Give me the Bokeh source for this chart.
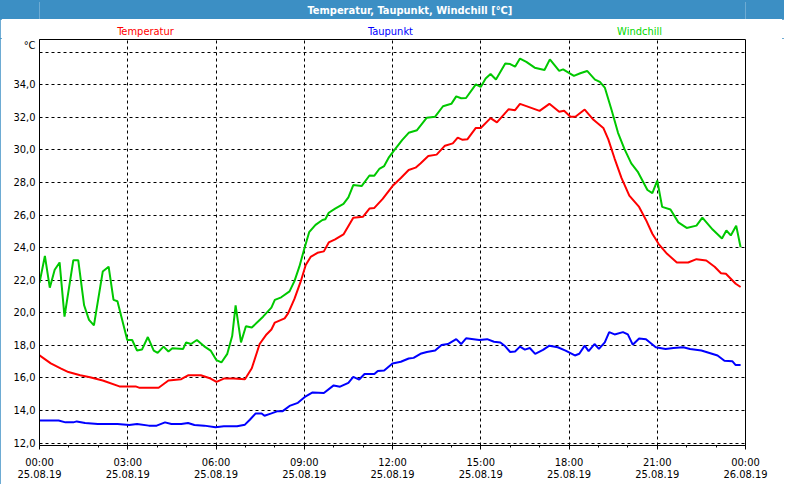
from bokeh.plotting import figure
from bokeh.models import Range1d, FixedTicker, Label
from bokeh.layouts import column
from bokeh.embed import file_html
from bokeh.resources import INLINE

FONT = "DejaVu Sans Condensed"
BAR = "#3c8fc4"
RED = "#ff0000"
BLUE = "#0000ff"
GREEN = "#00c800"

title_text = "Temperatur, Taupunkt, Windchill [°C]"
series_names = ["Temperatur", "Taupunkt", "Windchill"]
series_label_colors = [RED, BLUE, "#00d800"]
unit_label = "°C"

x_ticks = [0, 180, 360, 540, 720, 900, 1080, 1260, 1440]
x_tick_labels = ["00:00\n25.08.19", "03:00\n25.08.19", "06:00\n25.08.19",
                 "09:00\n25.08.19", "12:00\n25.08.19", "15:00\n25.08.19",
                 "18:00\n25.08.19", "21:00\n25.08.19", "00:00\n26.08.19"]
x_minor = [60 * i for i in range(25)]
y_ticks = [12, 14, 16, 18, 20, 22, 24, 26, 28, 30, 32, 34, 36]
y_tick_labels = ["12,0", "14,0", "16,0", "18,0", "20,0", "22,0", "24,0",
                 "26,0", "28,0", "30,0", "32,0", "34,0", ""]
unit_tick = 36.4

# minutes after 25.08.19 00:00
temp_min = [0, 23, 43, 59, 83, 103, 129, 163, 196, 203, 243, 263, 289, 303, 329,
            349, 361, 376, 396, 419, 433, 449, 463, 473, 480, 500, 507, 520, 533,
            543, 553, 567, 580, 590, 603, 620, 640, 660, 673, 683, 700, 720, 737,
            753, 767, 777, 793, 810, 827, 843, 853, 863, 873, 890, 900, 920, 933,
            957, 970, 980, 993, 1020, 1040, 1060, 1070, 1083, 1093, 1112, 1130,
            1150, 1160, 1173, 1187, 1203, 1223, 1237, 1250, 1263, 1280, 1300,
            1323, 1340, 1360, 1377, 1390, 1400, 1420, 1430]
temp_val = [17.38, 16.89, 16.59, 16.36, 16.16, 16.04, 15.84, 15.48, 15.48, 15.40,
            15.40, 15.84, 15.92, 16.16, 16.16, 15.96, 15.76, 15.96, 15.96, 15.92,
            16.59, 18.08, 18.67, 18.97, 19.40, 19.66, 19.96, 20.85, 21.94, 22.93,
            23.43, 23.68, 23.77, 24.32, 24.51, 24.81, 25.84, 25.90, 26.40, 26.44,
            26.99, 27.78, 28.28, 28.77, 28.91, 29.17, 29.62, 29.71, 30.26, 30.40,
            30.75, 30.62, 30.66, 31.35, 31.35, 31.95, 31.69, 32.50, 32.44, 32.83,
            32.69, 32.40, 32.83, 32.34, 32.40, 32.04, 32.04, 32.48, 31.85, 31.35,
            30.66, 29.47, 28.28, 27.19, 26.50, 25.70, 24.85, 24.22, 23.62, 23.09,
            23.09, 23.29, 23.21, 22.83, 22.43, 22.40, 21.78, 21.58]

dew_min = [0, 39, 53, 69, 76, 93, 119, 159, 183, 199,
           223, 239, 256, 269, 289, 303, 316, 336, 359, 376,
           403, 419, 429, 441, 453, 459, 473, 486, 496, 510,
           527, 543, 557, 580, 600, 613, 630, 640, 652, 663,
           683, 690, 703, 720, 737, 753, 763, 777, 790, 807,
           820, 833, 850, 860, 870, 897, 913, 927, 940, 950,
           960, 970, 980, 990, 1000, 1011, 1027, 1040, 1057, 1073,
           1092, 1101, 1112, 1120, 1132, 1141, 1153, 1162, 1173, 1190,
           1200, 1210, 1223, 1237, 1257, 1277, 1293, 1313, 1327, 1350,
           1360, 1383, 1397, 1413, 1420, 1430]
dew_val = [13.38, 13.38, 13.27, 13.27, 13.33, 13.23, 13.17, 13.17, 13.11, 13.17,
           13.07, 13.07, 13.27, 13.17, 13.17, 13.23, 13.11, 13.07, 12.97, 13.03,
           13.03, 13.13, 13.43, 13.82, 13.82, 13.68, 13.82, 13.96, 13.96, 14.28,
           14.47, 14.87, 15.11, 15.07, 15.54, 15.46, 15.70, 16.06, 15.90, 16.24,
           16.24, 16.43, 16.46, 16.89, 16.99, 17.19, 17.23, 17.48, 17.59, 17.68,
           18.02, 18.08, 18.38, 18.08, 18.43, 18.33, 18.38, 18.22, 18.18, 17.94,
           17.59, 17.62, 17.92, 17.74, 17.84, 17.48, 17.72, 17.98, 17.88, 17.68,
           17.38, 17.48, 17.98, 17.65, 18.08, 17.78, 18.18, 18.81, 18.67, 18.81,
           18.67, 18.04, 18.42, 18.38, 17.88, 17.78, 17.84, 17.88, 17.78, 17.68,
           17.59, 17.38, 17.05, 17.03, 16.79, 16.79]

wc_min = [0, 11, 21, 31, 41, 51, 69, 79, 91, 101,
          111, 129, 141, 151, 159, 179, 189, 199, 209, 221,
          233, 241, 253, 263, 271, 293, 299, 309, 321, 336,
          349, 361, 371, 383, 393, 400, 411, 421, 433, 456,
          473, 480, 493, 510, 520, 530, 540, 550, 563, 577,
          583, 590, 603, 620, 630, 640, 657, 673, 683, 693,
          703, 713, 723, 740, 753, 770, 790, 807, 823, 840,
          850, 860, 870, 890, 900, 910, 920, 931, 950, 960,
          970, 980, 993, 1010, 1030, 1041, 1060, 1068, 1090, 1103,
          1117, 1133, 1143, 1153, 1167, 1180, 1193, 1207, 1220, 1240,
          1250, 1260, 1270, 1287, 1303, 1320, 1340, 1352, 1373, 1392,
          1401, 1410, 1421, 1430]
wc_val = [21.84, 23.49, 21.54, 22.64, 23.09, 19.76, 23.23, 23.23, 20.46, 19.56,
          19.23, 22.53, 22.83, 20.79, 20.71, 18.33, 18.33, 17.68, 17.74, 18.51,
          17.68, 17.54, 17.92, 17.62, 17.82, 17.78, 18.18, 18.08, 18.33, 17.94,
          17.68, 17.09, 16.95, 17.48, 18.57, 20.46, 18.18, 19.17, 19.09, 19.76,
          20.32, 20.79, 20.95, 21.31, 21.94, 22.83, 23.92, 24.95, 25.40, 25.70,
          25.74, 26.14, 26.40, 26.69, 27.09, 27.84, 27.78, 28.43, 28.42, 28.83,
          29.01, 29.56, 29.96, 30.62, 31.05, 31.21, 31.98, 32.04, 32.68, 32.83,
          33.29, 33.17, 33.19, 34.02, 33.87, 34.38, 34.66, 34.32, 35.31, 35.27,
          35.11, 35.61, 35.41, 35.05, 34.91, 35.56, 34.85, 34.95, 34.55, 34.71,
          34.85, 34.32, 34.18, 33.83, 32.44, 31.05, 30.06, 29.17, 28.67, 27.54,
          27.35, 28.12, 26.50, 26.34, 25.55, 25.21, 25.35, 25.84, 25.11, 24.56,
          25.05, 24.75, 25.35, 24.02]

W = 784
BORDER = 39          # left/right/bottom space around the plot frame


def header_fig(height, fill):
    f = figure(width=W, height=height, output_backend="svg", toolbar_location=None,
               x_range=Range1d(0, 1), y_range=Range1d(0, 1), min_border=0,
               x_axis_location=None, y_axis_location=None)
    f.grid.visible = False
    f.background_fill_color = fill
    f.border_fill_color = fill
    f.outline_line_color = None
    return f


# ---- title bar (blue) ----
bar = header_fig(19, BAR)
bar.add_layout(Label(x=268, y=9, x_units="screen", y_units="screen", text=title_text,
                     text_color="white", text_font=FONT, text_font_style="bold",
                     text_font_size="11px", text_baseline="middle"))

# ---- series captions row ----
caps = header_fig(19, "white")
for name, col, cx in zip(series_names, series_label_colors, [106, 351, 600]):
    caps.add_layout(Label(x=cx, y=7, x_units="screen", y_units="screen", text=name,
                          text_color=col, text_font=FONT, text_font_size="11px",
                          text_align="center", text_baseline="middle"))

# ---- main chart ----
p = figure(width=W, height=446, output_backend="svg", toolbar_location=None,
           x_range=Range1d(0, 1440), y_range=Range1d(11.85, 36.78),
           min_border_left=BORDER, min_border_right=BORDER, min_border_top=1,
           min_border_bottom=BORDER)
p.background_fill_color = "white"
p.border_fill_color = "white"
p.outline_line_color = "black"
p.outline_line_width = 1

p.xaxis.ticker = FixedTicker(ticks=x_ticks, minor_ticks=x_minor)
p.xaxis.major_label_overrides = dict(zip(x_ticks, x_tick_labels))
p.xaxis.major_tick_out = 4
p.xaxis.major_tick_in = 0
p.xaxis.minor_tick_out = 2
p.xaxis.minor_tick_in = 0
p.xaxis.major_label_standoff = 6
p.xaxis.major_label_text_line_height = 0.95

p.yaxis.ticker = FixedTicker(ticks=y_ticks + [unit_tick], minor_ticks=[])
p.yaxis.major_label_overrides = {**dict(zip(y_ticks, y_tick_labels)),
                                 unit_tick: unit_label}
p.yaxis.major_tick_out = 0
p.yaxis.major_tick_in = 0
p.yaxis.minor_tick_out = 0
p.yaxis.minor_tick_in = 0
p.yaxis.major_label_standoff = 4

for ax in (p.xaxis, p.yaxis):
    ax.axis_line_color = "black"
    ax.major_tick_line_color = "black"
    ax.minor_tick_line_color = "black"
    ax.major_label_text_font = FONT
    ax.major_label_text_font_size = "11px"
    ax.major_label_text_color = "black"

p.xgrid.ticker = FixedTicker(ticks=x_ticks)
p.ygrid.ticker = FixedTicker(ticks=y_ticks)
p.grid.grid_line_color = "black"
p.grid.grid_line_dash = "3 3"
p.grid.grid_line_width = 1

p.line(dew_min, dew_val, line_color=BLUE, line_width=2)
p.line(temp_min, temp_val, line_color=RED, line_width=2)
p.line(wc_min, wc_val, line_color=GREEN, line_width=2)

layout = column(bar, caps, p, spacing=0,
                styles={"outline": "2px solid " + BAR, "outline-offset": "-2px"})
open("out.html", "w").write(file_html(layout, INLINE))
